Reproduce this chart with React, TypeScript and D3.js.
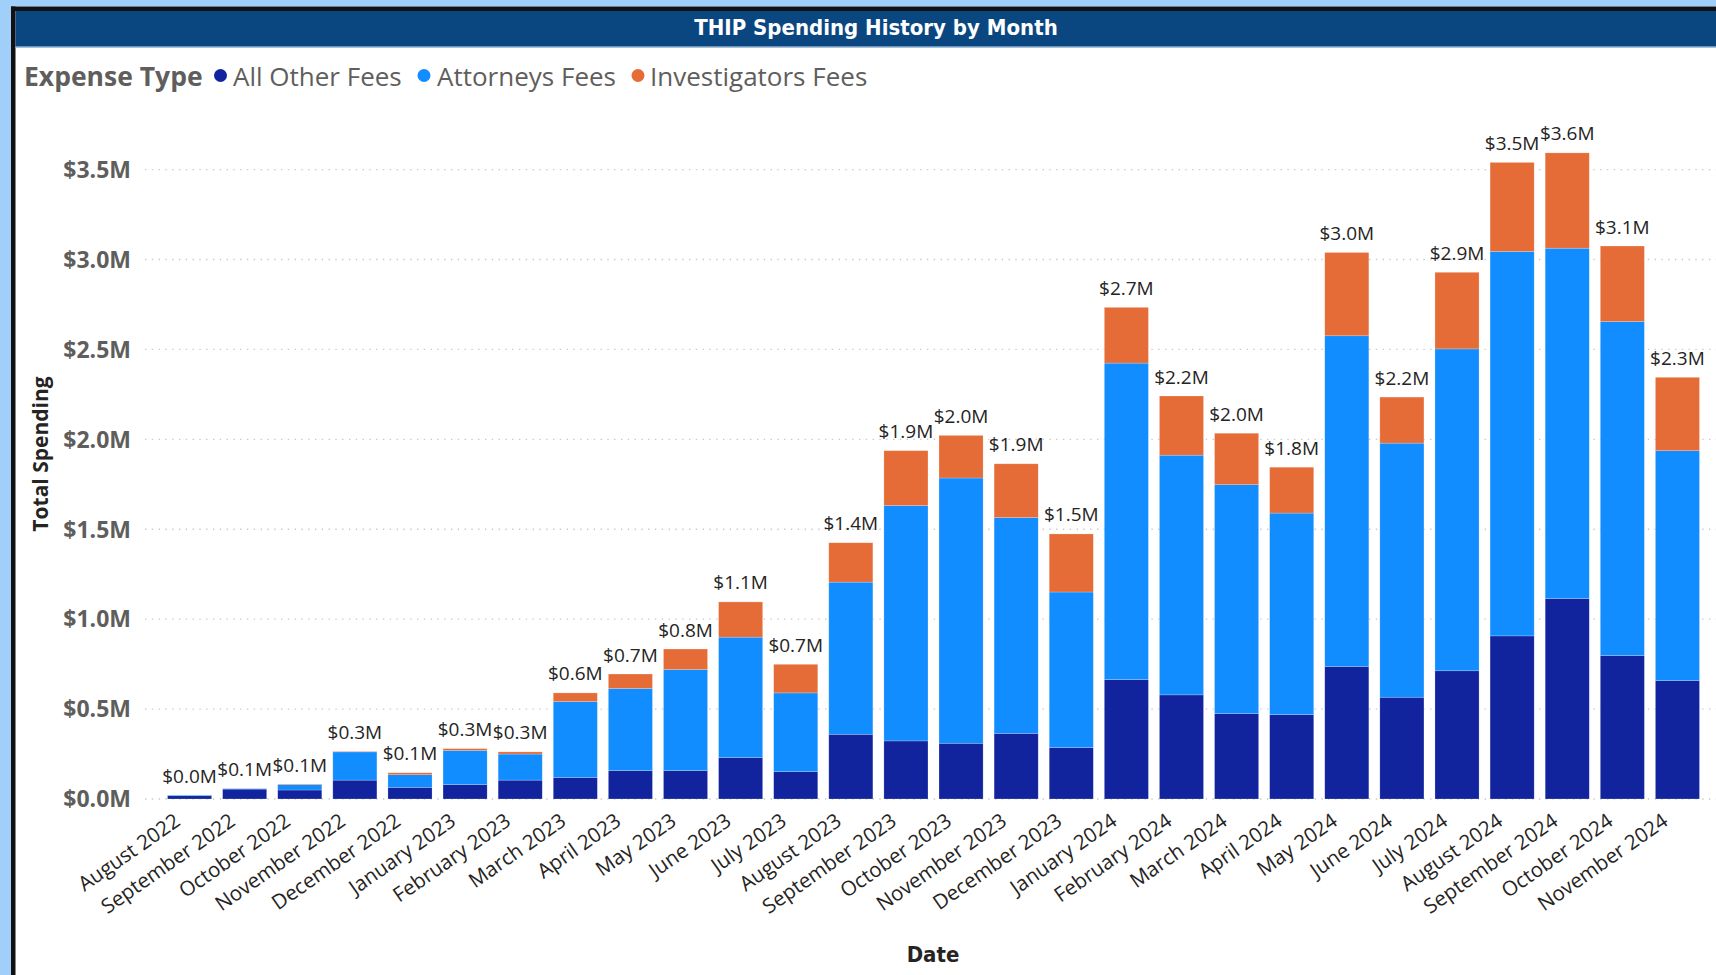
import React from 'react';
import * as d3 from 'd3';

// values in millions of dollars
const months = [
  'August 2022', 'September 2022', 'October 2022', 'November 2022', 'December 2022',
  'January 2023', 'February 2023', 'March 2023', 'April 2023', 'May 2023', 'June 2023',
  'July 2023', 'August 2023', 'September 2023', 'October 2023', 'November 2023',
  'December 2023', 'January 2024', 'February 2024', 'March 2024', 'April 2024',
  'May 2024', 'June 2024', 'July 2024', 'August 2024', 'September 2024',
  'October 2024', 'November 2024',
];
const allOtherFees = [
  0.018, 0.055, 0.05, 0.105, 0.065, 0.08, 0.105, 0.12, 0.158, 0.158, 0.231, 0.152,
  0.36, 0.323, 0.31, 0.365, 0.286, 0.664, 0.579, 0.475, 0.469, 0.737, 0.566, 0.713,
  0.907, 1.115, 0.798, 0.658,
];
const attorneysFees = [
  0.004, 0.003, 0.03, 0.157, 0.07, 0.19, 0.145, 0.422, 0.457, 0.562, 0.669, 0.438,
  0.846, 1.309, 1.475, 1.2, 0.865, 1.76, 1.333, 1.273, 1.121, 1.839, 1.413, 1.79,
  2.138, 1.948, 1.857, 1.279,
];
const investigatorsFees = [
  0, 0, 0.003, 0.003, 0.011, 0.01, 0.012, 0.048, 0.08, 0.114, 0.196, 0.159,
  0.219, 0.305, 0.237, 0.299, 0.323, 0.31, 0.329, 0.286, 0.255, 0.463, 0.256, 0.426,
  0.495, 0.53, 0.42, 0.408,
];
const yTicks = [0, 0.5, 1, 1.5, 2, 2.5, 3, 3.5];
const seriesNames = ['All Other Fees', 'Attorneys Fees', 'Investigators Fees'];
const seriesColors = ['#12239E', '#118DFF', '#E66C37'];

const W = 1716;
const H = 975;
const uiFont = "'Segoe UI', 'Open Sans', sans-serif";
const dinFont = "'DejaVu Sans Condensed', 'Liberation Sans Narrow', sans-serif";

export default function App() {
  const rows = months.map((m, i) => ({
    month: m,
    'All Other Fees': allOtherFees[i],
    'Attorneys Fees': attorneysFees[i],
    'Investigators Fees': investigatorsFees[i],
  }));
  const stacked = d3.stack<any>().keys(seriesNames)(rows);

  const x = d3.scaleBand().domain(months).range([162, 1705]).paddingInner(0.2).paddingOuter(0.1);
  const y = d3.scaleLinear().domain([0, 3.5]).range([799, 169.6]);
  const color = d3.scaleOrdinal<string, string>().domain(seriesNames).range(seriesColors);

  const totals = months.map((_, i) => allOtherFees[i] + attorneysFees[i] + investigatorsFees[i]);

  const legendItems = [
    { name: 'All Other Fees', dot: 220.5, text: 233 },
    { name: 'Attorneys Fees', dot: 424, text: 437 },
    { name: 'Investigators Fees', dot: 638, text: 650 },
  ];

  return (
    <svg width={W} height={H} style={{ position: 'absolute', left: 0, top: 0, background: '#fff' }}>
      {/* frame */}
      <rect x={0} y={0} width={W} height={H} fill="#fff" />
      <rect x={0} y={0} width={11} height={H} fill="#A0CFFA" />
      <rect x={0} y={0} width={W} height={6.5} fill="#A0CFFA" />
      <rect x={11} y={6.5} width={4.5} height={H} fill="#111" />
      <rect x={11} y={6.5} width={W} height={4.5} fill="#111" />
      <rect x={15.5} y={11} width={W} height={35.7} fill="#0A4780" />
      <rect x={15.5} y={46.7} width={W} height={1.3} fill="#A9C4DE" />
      <text x={876} y={35} textAnchor="middle" fill="#fff" fontFamily={dinFont}
        fontWeight="bold" fontSize={22}>THIP Spending History by Month</text>

      {/* legend */}
      <text x={24} y={85.5} fill="#605E5C" fontFamily={uiFont} fontWeight="bold" fontSize={26.5}>Expense Type</text>
      {legendItems.map((l) => (
        <g key={l.name}>
          <circle cx={l.dot} cy={75.5} r={6.5} fill={color(l.name)} />
          <text x={l.text} y={85.5} fill="#605E5C" fontFamily={uiFont} fontSize={26}>{l.name}</text>
        </g>
      ))}

      {/* gridlines and y ticks */}
      {yTicks.map((t) => (
        <g key={t}>
          <line x1={145} x2={W} y1={y(t)} y2={y(t)} stroke="#C8C6C4" strokeWidth={1.3}
            strokeDasharray="1.3,5.5" />
          <text x={131} y={y(t)} dy="0.36em" textAnchor="end" fill="#605E5C"
            fontFamily={uiFont} fontWeight="bold" fontSize={23}>{'$' + t.toFixed(1) + 'M'}</text>
        </g>
      ))}

      {/* bars */}
      {stacked.map((s) => (
        <g key={s.key} fill={color(s.key)}>
          {s.map((d, i) => (
            <rect key={i} x={x(months[i])} width={x.bandwidth()} y={y(d[1])}
              height={Math.max(0, y(d[0]) - y(d[1]))} stroke="rgba(255,255,255,0.35)" strokeWidth={0.6} />
          ))}
        </g>
      ))}

      {/* total labels */}
      {totals.map((t, i) => (
        <text key={i} x={(x(months[i]) as number) + x.bandwidth() / 2} y={y(t) - 12.5}
          textAnchor="middle" fill="#252423" fontFamily={uiFont} fontSize={19}>
          {'$' + t.toFixed(1) + 'M'}
        </text>
      ))}

      {/* x tick labels */}
      {months.map((m) => {
        const cx = (x(m) as number) + x.bandwidth() / 2;
        return (
          <text key={m} transform={`translate(${cx - 8},${824}) rotate(-35)`} textAnchor="end"
            fill="#252423" fontFamily={uiFont} fontSize={20.5}>{m}</text>
        );
      })}

      {/* axis titles */}
      <text transform="translate(48,454) rotate(-90)" textAnchor="middle" fill="#252423"
        fontFamily={uiFont} fontWeight="bold" fontSize={21}>Total Spending</text>
      <text x={933} y={961.5} textAnchor="middle" fill="#252423" fontFamily={dinFont}
        fontWeight="bold" fontSize={22}>Date</text>
    </svg>
  );
}
